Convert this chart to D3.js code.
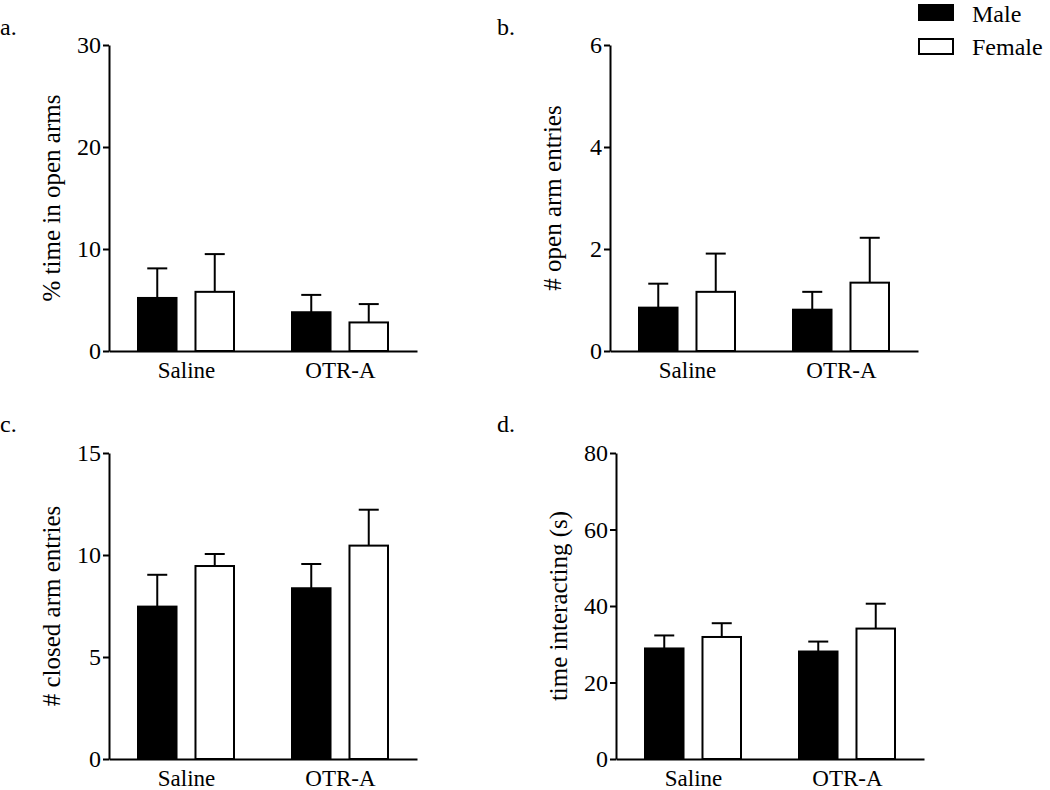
<!DOCTYPE html>
<html>
<head>
<meta charset="utf-8">
<script src="https://cdn.jsdelivr.net/npm/d3@7"></script>
<style>
  body { margin: 0; background: #fff; }
  svg { display: block; font-family: "Liberation Serif", "Times New Roman", serif; }
</style>
</head>
<body>
<svg id="chart" width="1050" height="790"></svg>
<script>
// groups and sexes
const groups = ["Saline", "OTR-A"];
const sexes = ["Male", "Female"];

// a. % time in open arms
const openTimeMale = [5.2, 3.8];
const openTimeFemale = [5.8, 2.8];
const openTimeSemMale = [2.9, 1.7];
const openTimeSemFemale = [3.7, 1.8];

// b. # open arm entries
const openEntriesMale = [0.85, 0.81];
const openEntriesFemale = [1.16, 1.34];
const openEntriesSemMale = [0.47, 0.35];
const openEntriesSemFemale = [0.75, 0.88];

// c. # closed arm entries
const closedEntriesMale = [7.47, 8.37];
const closedEntriesFemale = [9.46, 10.46];
const closedEntriesSemMale = [1.56, 1.19];
const closedEntriesSemFemale = [0.59, 1.76];

// d. time interacting (s)
const interactMale = [28.9, 28.1];
const interactFemale = [31.9, 34.1];
const interactSemMale = [3.4, 2.6];
const interactSemFemale = [3.6, 6.5];

// y axis ticks per panel
const ticksA = [0, 10, 20, 30];
const ticksB = [0, 2, 4, 6];
const ticksC = [0, 5, 10, 15];
const ticksD = [0, 20, 40, 60, 80];

const panels = [
    { tag: "a.", title: "% time in open arms", male: openTimeMale, female: openTimeFemale,
      semM: openTimeSemMale, semF: openTimeSemFemale, ticks: ticksA,
      x0: 109, top: 45, bottom: 351, tagX: 0, tagY: 35 },
    { tag: "b.", title: "# open arm entries", male: openEntriesMale, female: openEntriesFemale,
      semM: openEntriesSemMale, semF: openEntriesSemFemale, ticks: ticksB,
      x0: 610, top: 45, bottom: 351, tagX: 497, tagY: 35 },
    { tag: "c.", title: "# closed arm entries", male: closedEntriesMale, female: closedEntriesFemale,
      semM: closedEntriesSemMale, semF: closedEntriesSemFemale, ticks: ticksC,
      x0: 109, top: 453, bottom: 759, tagX: 0, tagY: 432 },
    { tag: "d.", title: "time interacting (s)", male: interactMale, female: interactFemale,
      semM: interactSemMale, semF: interactSemFemale, ticks: ticksD,
      x0: 616, top: 453, bottom: 759, tagX: 497, tagY: 432 }
];

const svg = d3.select("#chart");
const axisWidth = 308;
const fill = { Male: "#000", Female: "#fff" };

panels.forEach(p => {
    const g = svg.append("g").attr("transform", `translate(${p.x0},0)`);

    const x = d3.scalePoint().domain(groups).range([0, axisWidth]).padding(0.5);
    const xs = d3.scaleBand().domain(sexes).range([-48, 48]).paddingInner(0.33);
    const y = d3.scaleLinear().domain([0, d3.max(p.ticks)]).range([p.bottom, p.top]);

    const rows = [];
    groups.forEach((grp, i) => {
        rows.push({ grp, sex: "Male", v: p.male[i], e: p.semM[i] });
        rows.push({ grp, sex: "Female", v: p.female[i], e: p.semF[i] });
    });

    // error bars (upper only)
    const err = g.selectAll(".err").data(rows).join("g")
        .attr("transform", d => `translate(${x(d.grp) + xs(d.sex) + xs.bandwidth() / 2},0)`)
        .attr("stroke", "#000").attr("stroke-width", 2);
    err.append("line").attr("y1", d => y(d.v)).attr("y2", d => y(d.v + d.e));
    err.append("line").attr("x1", -10).attr("x2", 10)
        .attr("y1", d => y(d.v + d.e)).attr("y2", d => y(d.v + d.e));

    g.selectAll(".bar").data(rows).join("rect")
        .attr("x", d => x(d.grp) + xs(d.sex))
        .attr("width", xs.bandwidth())
        .attr("y", d => y(d.v))
        .attr("height", d => y(0) - y(d.v))
        .attr("fill", d => fill[d.sex])
        .attr("stroke", "#000")
        .attr("stroke-width", 2);

    // y axis
    const ya = g.append("g")
        .call(d3.axisLeft(y).tickValues(p.ticks).tickSize(6).tickSizeOuter(0).tickPadding(2).tickFormat(d3.format("d")))
        .attr("font-family", null).attr("font-size", 24);
    ya.selectAll("path, line").attr("stroke", "#000").attr("stroke-width", 2);
    ya.selectAll("text").attr("fill", "#000");

    // x axis
    const xa = g.append("g").attr("transform", `translate(0,${p.bottom})`)
        .call(d3.axisBottom(x).tickSize(0).tickSizeOuter(0).tickPadding(11))
        .attr("font-family", null).attr("font-size", 23);
    xa.select(".domain").attr("stroke", "#000").attr("stroke-width", 2);
    xa.selectAll("text").attr("fill", "#000");

    // axis title
    g.append("text")
        .attr("transform", `translate(-49,${(p.top + p.bottom) / 2}) rotate(-90)`)
        .attr("text-anchor", "middle")
        .attr("font-size", 25)
        .text(p.title);

    svg.append("text").attr("x", p.tagX).attr("y", p.tagY)
        .attr("font-size", 24).text(p.tag);
});

// legend
const legend = svg.append("g").attr("transform", "translate(918,4)");
sexes.forEach((s, i) => {
    legend.append("rect").attr("x", 1).attr("y", i * 34 + 1)
        .attr("width", 34).attr("height", 15)
        .attr("fill", fill[s]).attr("stroke", "#000").attr("stroke-width", 2);
    legend.append("text").attr("x", 54).attr("y", i * 33 + 18)
        .attr("font-size", 24).text(s);
});
</script>
</body>
</html>
